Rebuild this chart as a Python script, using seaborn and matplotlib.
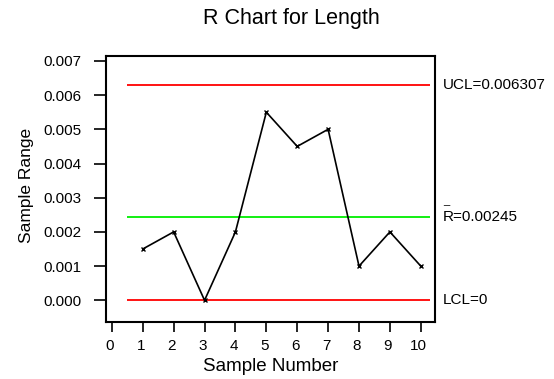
import matplotlib
matplotlib.use("Agg")
import matplotlib.pyplot as plt
from matplotlib.transforms import ScaledTranslation
import seaborn as sns
import pandas as pd
import numpy as np

samples = [1, 2, 3, 4, 5, 6, 7, 8, 9, 10]
ranges = [0.0015, 0.0020, 0.0000, 0.0020, 0.0055, 0.0045, 0.0050, 0.0010, 0.0020, 0.0010]
ucl = 0.006307
rbar = 0.00245
lcl = 0.0
xticks = list(range(0, 11))
yticks = [0.000, 0.001, 0.002, 0.003, 0.004, 0.005, 0.006, 0.007]

sns.set_style("ticks")
plt.rcParams['font.family'] = ['Liberation Sans', 'DejaVu Sans']
for k in ['text.color', 'axes.labelcolor', 'xtick.color', 'ytick.color', 'axes.edgecolor']:
    plt.rcParams[k] = 'black'

df = pd.DataFrame({"Sample Number": samples, "Sample Range": ranges})

fig = plt.figure(figsize=(5.54, 3.79), dpi=100)
ax = fig.add_axes([106/554, 1-322/379, (435-106)/554, (322-55.7)/379])

ax.hlines([ucl, lcl], 0.5, 10.3, colors="#ff0000", linewidth=1.3, zorder=1)
ax.hlines([rbar], 0.5, 10.3, colors="#00ee00", linewidth=1.3, zorder=1)

sns.lineplot(data=df, x="Sample Number", y="Sample Range", ax=ax, color="black",
             linewidth=1.2, marker="x", markersize=3, markeredgewidth=1.0,
             markeredgecolor="black", zorder=3)

ax.set_xlim(-0.19, 10.46)
ax.set_ylim(-0.000634, 0.007152)
ax.set_xticks(xticks)
ax.set_yticks(yticks)
ax.set_yticklabels([f"{v:.3f}" for v in yticks])
ax.tick_params(axis="y", length=8.5, width=1.2, labelsize=11, pad=9.5)
ax.tick_params(axis="x", length=7, width=1.2, labelsize=11, pad=5)
for s in ax.spines.values():
    s.set_linewidth(1.5)
shift = ScaledTranslation(-2/100, 0, fig.dpi_scale_trans)
for lab in ax.get_xticklabels():
    lab.set_transform(lab.get_transform() + shift)

ax.set_xlabel("Sample Number", fontsize=13.5, labelpad=4)
ax.set_ylabel("Sample Range", fontsize=12.5)
ax.yaxis.set_label_coords((34.5-106)/329, (322-185.8)/266.3)
t = ax.set_title("R Chart for Length", fontsize=15.5, pad=22.5)
t.set_x((291-106)/329)

tr = ax.get_yaxis_transform()
ax.text(1.025, ucl, "UCL=0.006307", transform=tr, fontsize=11, va="center", ha="left")
ax.text(1.025, rbar, "R=0.00245", transform=tr, fontsize=11, va="center", ha="left")
ax.annotate("_", xy=(1.025, rbar), xycoords=tr, xytext=(0.3, 8.6),
            textcoords="offset points", fontsize=8, va="baseline", ha="left")
ax.text(1.025, lcl, "LCL=0", transform=tr, fontsize=11, va="center", ha="left")

fig.savefig("out.png", dpi=100)
